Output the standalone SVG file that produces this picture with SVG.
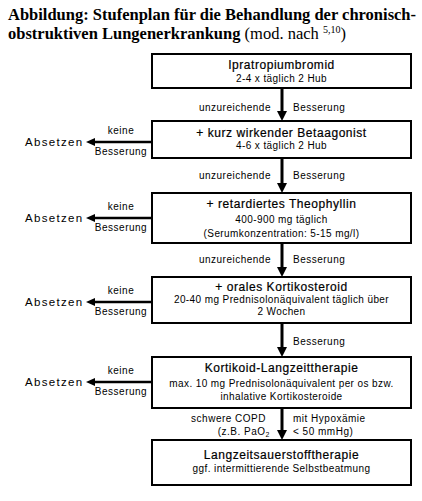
<svg xmlns="http://www.w3.org/2000/svg" width="422" height="501" viewBox="0 0 422 501">
<defs>
<style>
.box{fill:#fff;stroke:#000;stroke-width:2}
.t{font-family:"Liberation Sans",Arial,sans-serif;font-size:12px;letter-spacing:0.55px;text-anchor:middle;fill:#000;stroke:#000;stroke-width:0.2px}
.s{font-family:"Liberation Sans",Arial,sans-serif;font-size:10px;letter-spacing:0.4px;text-anchor:middle;fill:#000}
.l{font-family:"Liberation Sans",Arial,sans-serif;font-size:10px;letter-spacing:0.5px;fill:#000}
.ab{font-family:"Liberation Sans",Arial,sans-serif;font-size:11.5px;letter-spacing:1.3px;fill:#000}
.ttl{font-family:"Liberation Serif","Times New Roman",serif;font-size:16.5px;fill:#000}
.v{stroke:#000;stroke-width:3;fill:none}
.h{stroke:#000;stroke-width:2.5;fill:none}
</style>
</defs>
<g id="title">
<text class="ttl" x="8" y="20" font-weight="bold">Abbildung: Stufenplan für die Behandlung der chronisch-</text>
<text class="ttl" x="8" y="39"><tspan font-weight="bold">obstruktiven Lungenerkrankung</tspan> (mod. nach <tspan font-size="10" dy="-6">5,10</tspan><tspan dy="6">)</tspan></text>
</g>
<g id="connectors">
<line class="v" x1="282" y1="88" x2="282" y2="112"/><polygon points="277,111 287,111 282,121"/>
<line class="v" x1="282" y1="158" x2="282" y2="184"/><polygon points="277,183 287,183 282,193"/>
<line class="v" x1="282" y1="243" x2="282" y2="268"/><polygon points="277,267 287,267 282,277"/>
<line class="v" x1="282" y1="323" x2="282" y2="348"/><polygon points="277,347 287,347 282,357"/>
<line class="v" x1="282" y1="408" x2="282" y2="431"/><polygon points="277,430 287,430 282,440"/>
<line class="h" x1="152" y1="142" x2="93" y2="142"/><polygon points="95,138 95,146 86,142"/>
<line class="h" x1="152" y1="218" x2="93" y2="218"/><polygon points="95,214 95,222 86,218"/>
<line class="h" x1="152" y1="302" x2="93" y2="302" stroke-width="1.5"/><polygon points="95,298 95,306 86,302"/>
<line class="h" x1="152" y1="382" x2="93" y2="382"/><polygon points="95,378 95,386 86,382"/>
</g>
<g id="labels">
<text class="l" x="271" y="111" text-anchor="end">unzureichende</text>
<text class="l" x="293" y="111">Besserung</text>
<text class="l" x="271" y="179" text-anchor="end">unzureichende</text>
<text class="l" x="293" y="179">Besserung</text>
<text class="l" x="271" y="263" text-anchor="end">unzureichende</text>
<text class="l" x="293" y="263">Besserung</text>
<text class="l" x="293" y="345">Besserung</text>
<text class="l" x="266" y="422" text-anchor="end">schwere COPD</text>
<text class="l" x="270" y="435" text-anchor="end">(z.B. PaO<tspan font-size="7" dy="2">2</tspan></text>
<text class="l" x="293" y="422">mit Hypoxämie</text>
<text class="l" x="293" y="435">&lt; 50 mmHg)</text>
<text class="l" x="121" y="134" text-anchor="middle">keine</text>
<text class="l" x="121" y="155" text-anchor="middle">Besserung</text>
<text class="ab" x="25" y="146">Absetzen</text>
<text class="l" x="121" y="210" text-anchor="middle">keine</text>
<text class="l" x="121" y="231" text-anchor="middle">Besserung</text>
<text class="ab" x="25" y="222">Absetzen</text>
<text class="l" x="121" y="294" text-anchor="middle">keine</text>
<text class="l" x="121" y="315" text-anchor="middle">Besserung</text>
<text class="ab" x="25" y="306">Absetzen</text>
<text class="l" x="121" y="374" text-anchor="middle">keine</text>
<text class="l" x="121" y="395" text-anchor="middle">Besserung</text>
<text class="ab" x="25" y="386">Absetzen</text>
</g>
<g id="n1">
<rect class="box" x="152" y="54" width="259" height="34"/>
<text class="t" x="281.5" y="69">Ipratropiumbromid</text>
<text class="s" x="281.5" y="82">2-4 x täglich 2 Hub</text>
</g>
<g id="n2">
<rect class="box" x="152" y="121" width="259" height="37"/>
<text class="t" x="281.5" y="137">+ kurz wirkender Betaagonist</text>
<text class="s" x="281.5" y="149">4-6 x täglich 2 Hub</text>
</g>
<g id="n3">
<rect class="box" x="152" y="193" width="259" height="50"/>
<text class="t" x="281.5" y="208">+ retardiertes Theophyllin</text>
<text class="s" x="281.5" y="223">400-900 mg täglich</text>
<text class="s" x="281.5" y="237">(Serumkonzentration: 5-15 mg/l)</text>
</g>
<g id="n4">
<rect class="box" x="152" y="277" width="259" height="46"/>
<text class="t" x="281.5" y="291">+ orales Kortikosteroid</text>
<text class="s" x="281.5" y="303">20-40 mg Prednisolonäquivalent täglich über</text>
<text class="s" x="281.5" y="315">2 Wochen</text>
</g>
<g id="n5">
<rect class="box" x="152" y="357" width="259" height="51"/>
<text class="t" x="281.5" y="372">Kortikoid-Langzeittherapie</text>
<text class="s" x="281.5" y="387">max. 10 mg Prednisolonäquivalent per os bzw.</text>
<text class="s" x="281.5" y="400">inhalative Kortikosteroide</text>
</g>
<g id="n6">
<rect class="box" x="152" y="440" width="259" height="45"/>
<text class="t" x="281.5" y="459">Langzeitsauerstofftherapie</text>
<text class="s" x="281.5" y="472">ggf. intermittierende Selbstbeatmung</text>
</g>
</svg>
